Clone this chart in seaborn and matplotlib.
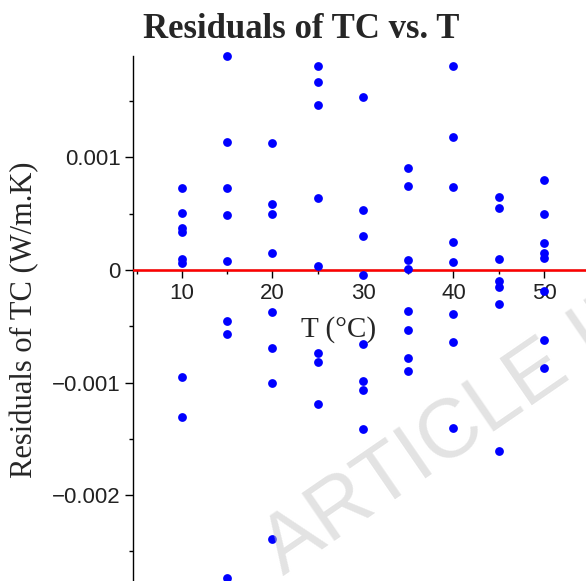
import matplotlib
matplotlib.use("Agg")
import matplotlib.pyplot as plt
import seaborn as sns
import pandas as pd
import numpy as np
from matplotlib.ticker import MultipleLocator

# ---- data ----
temps = [10, 15, 20, 25, 30, 35, 40, 45, 50]
res_10 = [0.00073, 0.00051, 0.00037, 0.00034, 0.00010, 0.00006, -0.00095, -0.00131]
res_15 = [0.00190, 0.00114, 0.00073, 0.00049, 0.00008, -0.00045, -0.00057, -0.00274]
res_20 = [0.00113, 0.00059, 0.00050, 0.00015, -0.00037, -0.00069, -0.00100, -0.00239]
res_25 = [0.00181, 0.00167, 0.00147, 0.00064, 0.00004, -0.00074, -0.00082, -0.00119]
res_30 = [0.00154, 0.00053, 0.00030, -0.00004, -0.00066, -0.00099, -0.00107, -0.00141]
res_35 = [0.00091, 0.00075, 0.00009, 0.00001, -0.00036, -0.00053, -0.00078, -0.00090]
res_40 = [0.00181, 0.00118, 0.00074, 0.00025, 0.00007, -0.00039, -0.00064, -0.00140]
res_45 = [0.00065, 0.00055, 0.00010, -0.00010, -0.00015, -0.00030, -0.00161]
res_50 = [0.00080, 0.00050, 0.00024, 0.00015, 0.00011, -0.00019, -0.00062, -0.00087]
x_ticks = [10, 20, 30, 40, 50]
y_ticks = [-0.002, -0.001, 0, 0.001]
y_tick_labels = ["\u22120.002", "\u22120.001", "0", "0.001"]

title = "Residuals of TC vs. T"
xlabel = "T (\u00b0C)"
ylabel = "Residuals of TC (W/m.K)"
watermark = "ARTICLE IN PRESS"

groups = [res_10, res_15, res_20, res_25, res_30, res_35, res_40, res_45, res_50]
df = pd.DataFrame({
    "T": [t for t, g in zip(temps, groups) for _ in g],
    "res": [v for g in groups for v in g],
})

sns.set_style("white")
plt.rcParams["font.family"] = ["Liberation Sans", "DejaVu Sans"]

W, H = 586, 581
fig = plt.figure(figsize=(W / 100, H / 100), dpi=100)
ax = fig.add_axes([133 / W, 0, (W - 133) / W, (H - 56) / H])

sns.scatterplot(data=df, x="T", y="res", ax=ax, color="#0000ff", s=40,
                linewidth=0, zorder=5, clip_on=False)

ax.set_xlim(4.59, 54.64)
ax.set_ylim(-0.002764, 0.001902)

ax.axhline(0, color="#ff0000", lw=1.8, zorder=4)

for s in ["top", "right"]:
    ax.spines[s].set_visible(False)
ax.spines["bottom"].set_position(("data", 0))
for s in ["left", "bottom"]:
    ax.spines[s].set_color("black")
    ax.spines[s].set_linewidth(1.0)

ax.set_xticks(x_ticks)
ax.xaxis.set_minor_locator(MultipleLocator(5))
ax.set_yticks(y_ticks)
ax.set_yticklabels(y_tick_labels)
ax.yaxis.set_minor_locator(MultipleLocator(0.0005))
ax.tick_params(axis="both", which="major", direction="out", length=6, width=1,
               color="black", labelsize=16, labelcolor="#222222", pad=3,
               bottom=True, left=True)
ax.tick_params(axis="both", which="minor", direction="out", length=3, width=1,
               color="black", bottom=True, left=True)
ax.grid(False)

ax.set_xlabel(xlabel, family="Liberation Serif", fontsize=21, va="baseline", ha="center")
ax.xaxis.set_label_coords((338.5 - 133) / (W - 133), (H - 337) / (H - 56))
ax.set_ylabel(ylabel, family="Liberation Serif", fontsize=22, va="center", ha="center")
ax.yaxis.set_label_coords((25 - 133) / (W - 133), (H - 320) / (H - 56))

fig.text(301.5 / W, 1 - 38 / H, title, family="Liberation Serif", fontweight="bold",
         fontsize=25, ha="center", va="baseline")

fig.text(283 / W, 5 / H, watermark, fontsize=60, color="#c8c8c8", alpha=0.5,
         rotation=34.5, rotation_mode="anchor", ha="left", va="baseline", zorder=10,
         family="Liberation Sans")

fig.savefig("out.png", dpi=100)
